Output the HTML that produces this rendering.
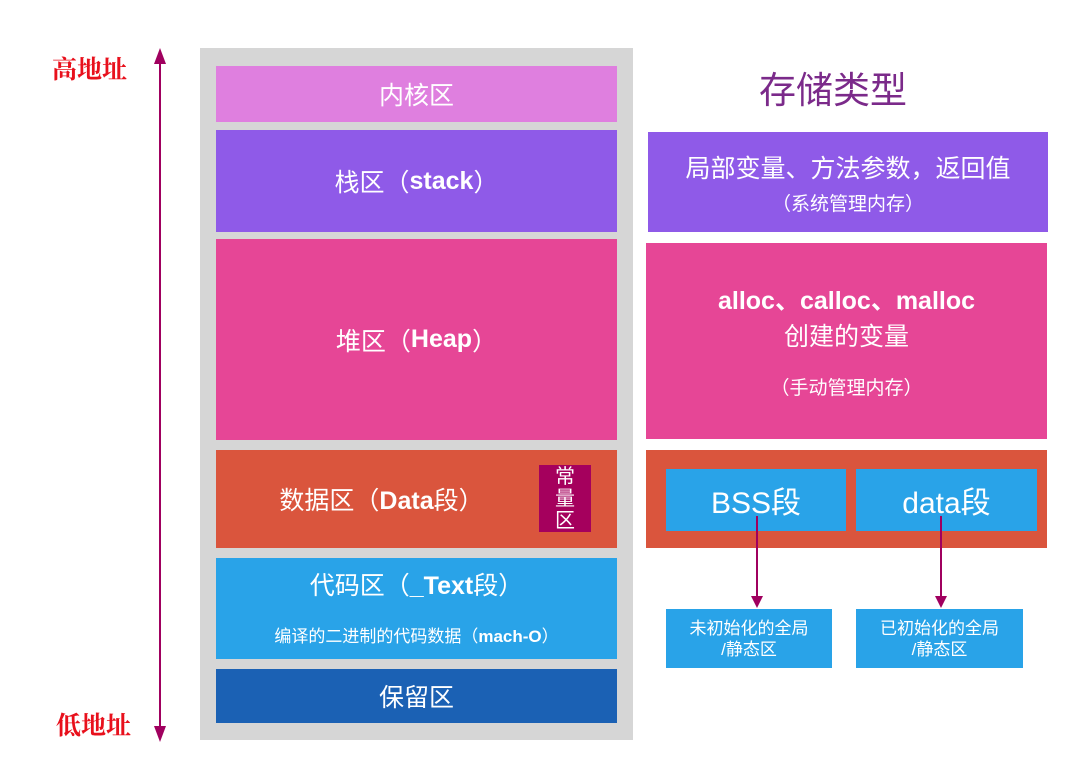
<!DOCTYPE html>
<html><head><meta charset="utf-8"><style>
body{margin:0;width:1080px;height:763px;background:#fff;position:relative;overflow:hidden;font-family:"Liberation Sans","Noto Sans CJK SC",sans-serif;}
.b{position:absolute;display:flex;align-items:center;justify-content:center;color:#fff;text-align:center;}
.t{position:absolute;}
</style></head><body>
<div class="t" style="left:52px;top:50px;color:#e8101c;font-size:25px;font-weight:bold;font-family:'Noto Serif CJK SC',serif">高地址</div>
<div class="t" style="left:56px;top:706px;color:#e8101c;font-size:25px;font-weight:bold;font-family:'Noto Serif CJK SC',serif">低地址</div>
<svg style="position:absolute;left:0;top:0" width="1080" height="763">
<line x1="160" y1="60" x2="160" y2="730" stroke="#a0005f" stroke-width="2"/>
<polygon points="160,48 154,64 166,64" fill="#a0005f"/>
<polygon points="160,742 154,726 166,726" fill="#a0005f"/>
</svg>
<div class="b" style="left:200px;top:48px;width:433px;height:692px;background:#d6d6d6"></div>
<div class="b" style="left:216px;top:66px;width:401px;height:56px;background:#df7fdf;font-size:25px">内核区</div>
<div class="b" style="left:216px;top:130px;width:401px;height:102px;background:#8f5ae8;font-size:25px">栈区（<b>stack</b>）</div>
<div class="b" style="left:216px;top:239px;width:401px;height:201px;background:#e64696;font-size:25px">堆区（<b>Heap</b>）</div>
<div class="b" style="left:216px;top:450px;width:401px;height:98px;background:#da553d;font-size:25px"><span style="margin-right:70px">数据区（<b>Data</b>段）</span></div>
<div class="b" style="left:539px;top:465px;width:52px;height:67px;background:#a5005d;font-size:20px;line-height:22px;flex-direction:column">常<br>量<br>区</div>
<div class="b" style="left:216px;top:558px;width:401px;height:101px;background:#29a3e8;flex-direction:column;justify-content:flex-start">
<div style="font-size:25px;margin-top:8px">代码区（<b>_Text</b>段）</div>
<div style="font-size:17px;margin-top:20px">编译的二进制的代码数据（<b>mach-O</b>）</div></div>
<div class="b" style="left:216px;top:669px;width:401px;height:54px;background:#1b61b4;font-size:25px">保留区</div>

<div class="t" style="left:733px;top:60px;width:200px;text-align:center;color:#7b2a8a;font-size:37px">存储类型</div>
<div class="b" style="left:648px;top:132px;width:400px;height:100px;background:#8f5ae8;flex-direction:column">
<div style="font-size:25px">局部变量、方法参数，返回值</div><div style="font-size:19px;margin-top:4px">（系统管理内存）</div></div>
<div class="b" style="left:646px;top:243px;width:401px;height:196px;background:#e64696;flex-direction:column;justify-content:flex-start">
<div style="font-size:25px;margin-top:38px;font-weight:bold">alloc、calloc、malloc</div>
<div style="font-size:25px">创建的变量</div>
<div style="font-size:19px;margin-top:20px">（手动管理内存）</div></div>
<div class="b" style="left:646px;top:450px;width:401px;height:98px;background:#da553d"></div>
<div class="b" style="left:666px;top:469px;width:180px;height:62px;background:#29a3e8;font-size:30px">BSS段</div>
<div class="b" style="left:856px;top:469px;width:181px;height:62px;background:#29a3e8;font-size:30px">data段</div>
<svg style="position:absolute;left:0;top:0" width="1080" height="763">
<line x1="757" y1="516" x2="757" y2="600" stroke="#a0005f" stroke-width="2"/>
<polygon points="751,596 763,596 757,608" fill="#a0005f"/>
<line x1="941" y1="516" x2="941" y2="600" stroke="#a0005f" stroke-width="2"/>
<polygon points="935,596 947,596 941,608" fill="#a0005f"/>
</svg>
<div class="b" style="left:666px;top:609px;width:166px;height:59px;background:#29a3e8;font-size:17px;line-height:21px">未初始化的全局<br>/静态区</div>
<div class="b" style="left:856px;top:609px;width:167px;height:59px;background:#29a3e8;font-size:17px;line-height:21px">已初始化的全局<br>/静态区</div>
</body></html>
